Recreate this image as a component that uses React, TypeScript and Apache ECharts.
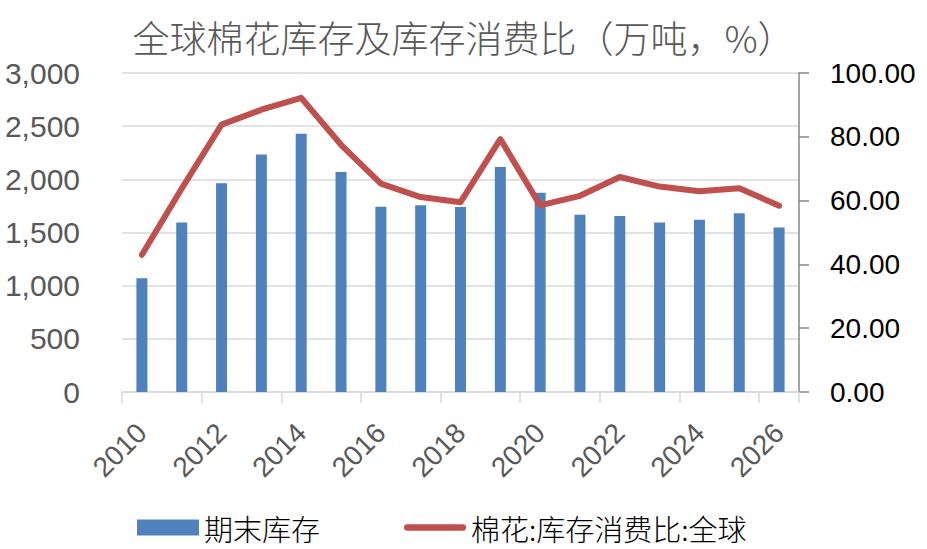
import React, { useEffect, useRef } from "react";
import * as echarts from "echarts";

const years = ["2010","2011","2012","2013","2014","2015","2016","2017","2018","2019","2020","2021","2022","2023","2024","2025","2026"];
const stockValues = [1070,1594,1964,2234,2429,2068,1741,1757,1740,2115,1873,1666,1654,1594,1619,1682,1547];
const ratioValues = [43.0,63.8,83.8,88.5,92.2,77.5,65.3,61.1,59.5,79.3,58.5,61.5,67.4,64.4,62.9,63.9,58.4];
const leftTicks = [0,500,1000,1500,2000,2500,3000];
const rightTicks = [0,20,40,60,80,100];

const NUM_FONT = "'Liberation Sans', 'Noto Sans CJK SC', sans-serif";
const CJK_FONT = "'Noto Sans CJK SC', 'Liberation Sans', sans-serif";

function fmtComma(v: number): string {
  const s = String(Math.round(v));
  return s.replace(/\B(?=(\d{3})+(?!\d))/g, ",");
}

export default function App() {
  const ref = useRef<HTMLDivElement>(null);
  useEffect(() => {
    if (!ref.current) return;
    const chart = echarts.init(ref.current, undefined, { renderer: "svg" });
    chart.setOption({
      animation: false,
      backgroundColor: "#ffffff",
      title: {
        text: "全球棉花库存及库存消费比（万吨，%）",
        left: "center",
        top: 13,
        textStyle: { fontFamily: CJK_FONT, fontSize: 37, fontWeight: 300, color: "#595959" },
      },
      legend: {
        left: 132,
        top: 508,
        itemWidth: 62,
        itemHeight: 16,
        itemGap: 84,
        symbolKeepAspect: true,
        textStyle: { fontFamily: CJK_FONT, fontSize: 29, lineHeight: 29, fontWeight: 300, color: "#000000" },
        data: [
          { name: "期末库存", icon: "rect" },
          {
            name: "棉花:库存消费比:全球",
            icon: "path://M3.5,0L64.5,0Q68,0 68,3.5Q68,7 64.5,7L3.5,7Q0,7 0,3.5Q0,0 3.5,0Z",
            itemStyle: { color: "#C0504D" },
          },
        ],
      },
      grid: { left: 122, right: 128, top: 73, bottom: 157, containLabel: false },
      xAxis: {
        type: "category",
        data: years,
        boundaryGap: true,
        axisLine: { show: true, lineStyle: { color: "#D9D9D9", width: 1.5 } },
        axisTick: { show: true, interval: 1, length: 11, lineStyle: { color: "#D9D9D9", width: 1.5 } },
        axisLabel: {
          interval: 1,
          rotate: 45,
          margin: 36,
          fontFamily: NUM_FONT,
          fontSize: 28,
          color: "#595959",
        },
      },
      yAxis: [
        {
          type: "value",
          min: leftTicks[0],
          max: leftTicks[leftTicks.length - 1],
          interval: 500,
          axisLine: { show: false },
          axisTick: { show: false },
          splitLine: { show: true, lineStyle: { color: "#D9D9D9", width: 1.5 } },
          axisLabel: {
            margin: 42,
            fontFamily: NUM_FONT,
            fontSize: 30,
            color: "#595959",
            formatter: (v: number) => fmtComma(v),
          },
        },
        {
          type: "value",
          position: "right",
          min: rightTicks[0],
          max: rightTicks[rightTicks.length - 1],
          interval: 20,
          axisLine: { show: true, lineStyle: { color: "#868686", width: 1.5 } },
          axisTick: { show: true, length: 10, lineStyle: { color: "#868686", width: 1.5 } },
          splitLine: { show: false },
          axisLabel: {
            margin: 31,
            fontFamily: NUM_FONT,
            fontSize: 28,
            color: "#000000",
            formatter: (v: number) => v.toFixed(2),
          },
        },
      ],
      series: [
        {
          name: "期末库存",
          type: "bar",
          yAxisIndex: 0,
          data: stockValues,
          barWidth: 11,
          itemStyle: { color: "#4F81BD" },
        },
        {
          name: "棉花:库存消费比:全球",
          type: "line",
          yAxisIndex: 1,
          data: ratioValues,
          symbol: "none",
          showSymbol: false,
          lineStyle: { color: "#C0504D", width: 6, cap: "round", join: "round" },
          itemStyle: { color: "#C0504D" },
        },
      ],
    });
    return () => chart.dispose();
  }, []);
  return (
    <div
      ref={ref}
      style={{ position: "fixed", left: 0, top: 0, width: 927, height: 549, background: "#fff" }}
    />
  );
}
